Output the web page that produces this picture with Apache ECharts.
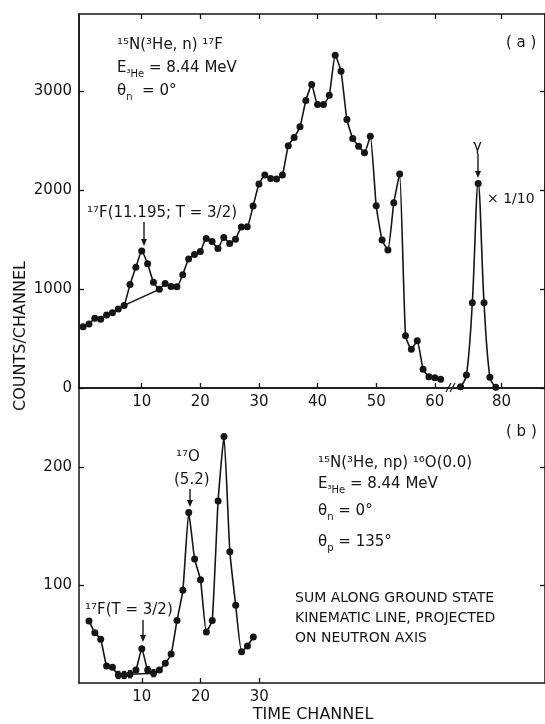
<!DOCTYPE html>
<html><head><meta charset="utf-8">
<script src="https://cdn.jsdelivr.net/npm/echarts@6/dist/echarts.min.js"></script>
<style>html,body{margin:0;padding:0;background:#fff}#c{width:545px;height:724px}</style>
</head><body><div id="c"></div>
<script>
// ---- data (panel a) ----
const topChannels = [0,1,2,3,4,5,6,7,8,9,10,11,12,13,14,15,16,17,18,19,20,21,22,23,24,25,26,27,28,29,30,31,32,33,34,35,36,37,38,39,40,41,42,43,44,45,46,47,48,49,50,51,52,53,54,55,56,57,58,59,60,61];
const topCounts = [619,646,704,694,737,761,798,835,1045,1220,1385,1255,1070,997,1057,1027,1023,1145,1305,1350,1380,1512,1480,1411,1522,1461,1503,1628,1630,1840,2062,2152,2118,2112,2152,2448,2532,2640,2905,3067,2865,2865,2960,3364,3202,2714,2522,2444,2377,2545,1842,1495,1394,1872,2162,528,391,478,189,114,104,88];
const gammaChannels = [73,74,75,76,77,78,79];
const gammaCounts = [13,131,862,2068,862,108,7];   // plotted x 1/10
const topBgChannels = [7,13];
const topBgCounts = [835,997];
// ---- data (panel b) ----
const botChannels = [1,2,3,4,5,6,7,8,9,10,11,12,13,14,15,16,17,18,19,20,21,22,23,24,25,26,27,28,29];
const botCounts = [69.6,59.5,54,31.5,30.3,23.8,23.8,24.4,28,46,28,25.3,28,33.7,41.5,70,95.5,161.4,122,104.5,60.3,70,171.3,226,128.3,82.8,43.5,48.3,56];
const botBgChannels = [8,12];
const botBgCounts = [24.4,25.3];
const botErrChannels = [6,7,8,11,12];
const botErrValues = [23.8,23.8,24.4,28,25.3];
const botErrHalf = [3,3,3,3,3];
// ---- ticks ----
const topXTicks = [10,20,30,40,50,60,80];
const topYTicks = [0,1000,2000,3000];
const botXTicks = [10,20,30];
const botYTicks = [100,200];

const FONT = 'DejaVu Sans';
const INK = '#151515';
const zip = (a,b) => a.map((v,i)=>[v,b[i]]);

const chart = echarts.init(document.getElementById('c'));

const lineStyle = {color: INK, width: 1.6};
const tickStyle = {show:true, inside:true, length:5, lineStyle:{color:INK, width:1.3}};
const axLine = {show:true, onZero:false, lineStyle:{color:INK, width:1.5}};
const noLine = {show:false, onZero:false};
const breakCfg = [{start:62.5, end:71.5, gap:'0.5%'}];
const plain = v => String(v);

function xAx(grid, pos, min, max, ticks, labels, brk, line){
  const a = {type:'value', gridIndex:grid, position:pos, min:min, max:max,
    axisLine:line, splitLine:{show:false},
    axisTick:Object.assign({}, tickStyle, {customValues:ticks}),
    axisLabel:{show:labels, customValues:ticks, formatter:plain, color:INK, fontFamily:FONT, fontSize:15, margin:7}};
  if (brk) { a.breaks = breakCfg; a.breakArea = {show:false}; }
  return a;
}
function yAx(grid, pos, min, max, ticks, labels){
  return {type:'value', gridIndex:grid, position:pos, min:min, max:max,
    axisLine:axLine, splitLine:{show:false},
    axisTick:Object.assign({}, tickStyle, {customValues:ticks}),
    axisLabel:{show:labels, customValues:ticks, formatter:plain, color:INK, fontFamily:FONT, fontSize:15, margin:7}};
}

const rich = {
  a:{fontFamily:FONT, fontSize:15, color:INK, lineHeight:22},
  m:{fontFamily:FONT, fontSize:14, color:INK, lineHeight:22},
  s:{fontFamily:FONT, fontSize:10, color:INK, lineHeight:10, verticalAlign:'bottom'},
  t:{fontFamily:FONT, fontSize:14, color:INK, lineHeight:18}
};
function txt(x, y, s, extra){
  return Object.assign({type:'text', x:x, y:y, style:{text:s, rich:rich, fill:INK, font:'15px '+FONT, verticalAlign:'middle'}}, extra||{});
}
function arrow(x, y1, y2){
  return {type:'group', children:[
    {type:'line', shape:{x1:x, y1:y1, x2:x, y2:y2-4}, style:{stroke:INK, lineWidth:1.4}},
    {type:'polygon', shape:{points:[[x-3,y2-7],[x+3,y2-7],[x,y2]]}, style:{fill:INK}}
  ]};
}

chart.setOption({
  backgroundColor:'#fff',
  animation:false,
  grid:[
    {left:79, top:14, width:468, height:374, show:true, borderColor:INK, borderWidth:1.5, backgroundColor:'transparent'},
    {left:79, top:388, width:468, height:295}
  ],
  xAxis:[
    xAx(0,'bottom',-0.7,87.4,topXTicks,true,true,axLine),
    xAx(0,'top',-0.7,87.4,topXTicks,false,true,noLine),
    xAx(1,'bottom',-0.7,78.7,botXTicks,true,false,axLine)
  ],
  yAxis:[
    yAx(0,'left',0,3780,topYTicks,true),
    yAx(0,'right',0,3780,topYTicks,false),
    yAx(1,'left',17,267,botYTicks,true),
    yAx(1,'right',17,267,botYTicks,false)
  ],
  series:[
    {type:'line', xAxisIndex:0, yAxisIndex:0, data:zip(topChannels, topCounts), smooth:0.15,
      symbol:'circle', symbolSize:7, itemStyle:{color:INK}, lineStyle:lineStyle},
    {type:'line', xAxisIndex:0, yAxisIndex:0, data:zip(gammaChannels, gammaCounts), smooth:0.35,
      symbol:'circle', symbolSize:7, itemStyle:{color:INK}, lineStyle:lineStyle},
    {type:'line', xAxisIndex:0, yAxisIndex:0, data:zip(topBgChannels, topBgCounts),
      symbol:'none', lineStyle:lineStyle},
    {type:'line', xAxisIndex:2, yAxisIndex:2, data:zip(botChannels, botCounts), smooth:0.15,
      symbol:'circle', symbolSize:7, itemStyle:{color:INK}, lineStyle:lineStyle},
    {type:'line', xAxisIndex:2, yAxisIndex:2, data:zip(botBgChannels, botBgCounts),
      symbol:'none', lineStyle:lineStyle},
    {type:'custom', xAxisIndex:2, yAxisIndex:2,
      data: botErrChannels.map((c,i)=>[c, botErrValues[i], botErrHalf[i]]),
      renderItem:function(params, api){
        const x = api.value(0), y = api.value(1), e = api.value(2);
        const p1 = api.coord([x, y-e]), p2 = api.coord([x, y+e]);
        const st = {stroke:INK, lineWidth:1.2};
        return {type:'group', children:[
          {type:'line', shape:{x1:p1[0], y1:p1[1], x2:p2[0], y2:p2[1]}, style:st},
          {type:'line', shape:{x1:p1[0]-2, y1:p1[1], x2:p1[0]+2, y2:p1[1]}, style:st},
          {type:'line', shape:{x1:p2[0]-2, y1:p2[1], x2:p2[0]+2, y2:p2[1]}, style:st}
        ]};
      }}
  ],
  graphic:[
    // axis titles
    {type:'text', x:21, y:336, rotation:Math.PI/2, style:{text:'COUNTS/CHANNEL', fill:INK, font:'16px '+FONT, align:'center', verticalAlign:'middle'}},
    {type:'text', x:313, y:715, style:{text:'TIME CHANNEL', fill:INK, font:'16px '+FONT, align:'center', verticalAlign:'middle'}},
    // axis break mark
    {type:'line', shape:{x1:446, y1:392, x2:451, y2:383}, style:{stroke:INK, lineWidth:1.2}},
    {type:'line', shape:{x1:450, y1:392, x2:455, y2:383}, style:{stroke:INK, lineWidth:1.2}},
    // panel a text
    txt(117, 45, '{a|¹⁵N(³He, n) ¹⁷F}'),
    txt(117, 68, '{a|E}{s|³He}{a| = 8.44 MeV}'),
    txt(117, 91, '{a|θ}{s|n}{a|  = 0°}'),
    txt(506, 43, '{a|( a )}'),
    txt(87, 213, '{a|¹⁷F(11.195; T = 3/2)}'),
    arrow(144, 222, 246),
    txt(473, 147, '{a|γ}'),
    arrow(478, 154, 178),
    txt(487, 199, '{m|× 1/10}'),
    // panel b text
    txt(506, 432, '{a|( b )}'),
    txt(176, 457, '{a|¹⁷O}'),
    txt(174, 480, '{a|(5.2)}'),
    arrow(190, 489, 507),
    txt(85, 610, '{a|¹⁷F(T = 3/2)}'),
    arrow(143, 620, 642),
    txt(318, 463, '{a|¹⁵N(³He, np) ¹⁶O(0.0)}'),
    txt(318, 484, '{a|E}{s|³He}{a| = 8.44 MeV}'),
    txt(318, 511, '{a|θ}{s|n}{a| = 0°}'),
    txt(318, 542, '{a|θ}{s|p}{a| = 135°}'),
    txt(295, 598, '{t|SUM ALONG GROUND STATE}'),
    txt(295, 618, '{t|KINEMATIC LINE, PROJECTED}'),
    txt(295, 638, '{t|ON NEUTRON AXIS}')
  ]
});
</script>
</body></html>
